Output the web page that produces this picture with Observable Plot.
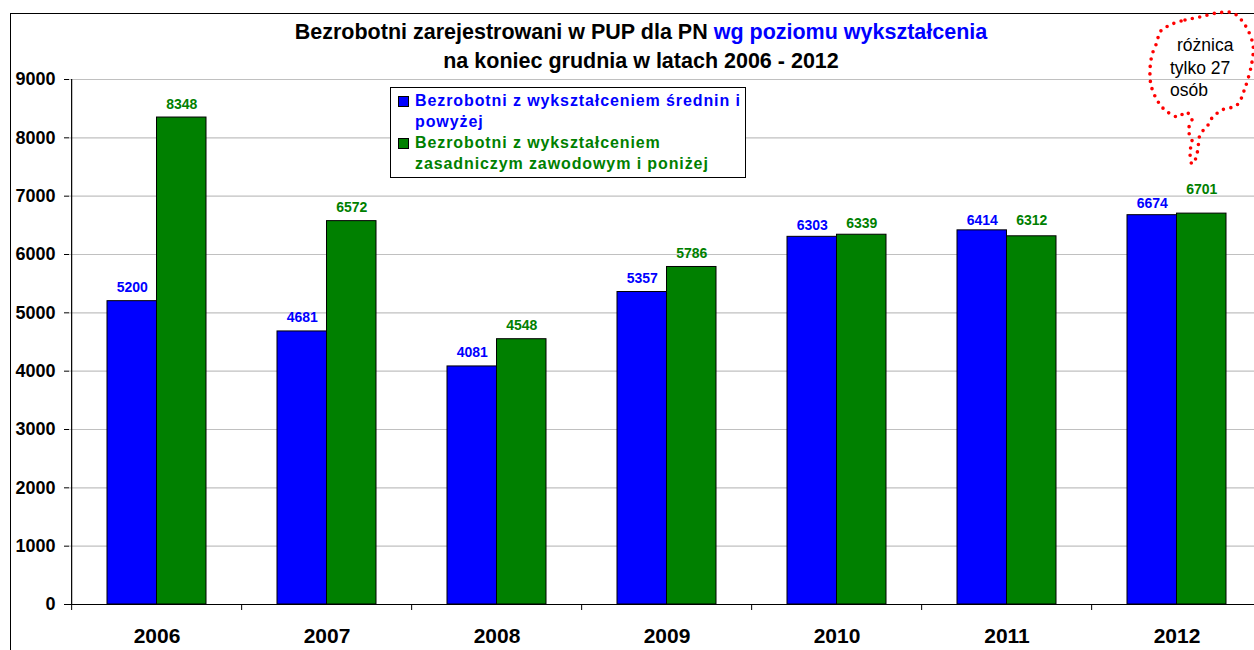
<!DOCTYPE html>
<html><head><meta charset="utf-8">
<script src="https://cdn.jsdelivr.net/npm/d3@7"></script>
<script src="https://cdn.jsdelivr.net/npm/@observablehq/plot@0.6"></script>
<style>
html,body{margin:0;padding:0;overflow:hidden;background:#fff;width:1254px;height:650px}
#wrap{position:relative;width:1254px;height:650px;overflow:hidden;font-family:Arial,"Liberation Sans",sans-serif}
#frame{position:absolute;left:10px;top:13px;width:1400px;height:800px;border-left:1.5px solid #000;border-top:1.5px solid #000;box-sizing:border-box}
#chart{position:absolute;left:0;top:0;width:1264px}
#chart svg{max-width:none !important}
#title{position:absolute;left:0;width:1282px;top:18px;text-align:center;font-weight:bold;font-size:21.5px;line-height:29px;color:#000}
#legend{position:absolute;left:390px;top:87px;width:356px;height:91px;border:1px solid #000;background:#fff;box-sizing:border-box;font-weight:bold;font-size:16px;letter-spacing:0.9px;line-height:20px}
.li{position:absolute;left:24px;white-space:nowrap}
.mk{position:absolute;left:7px;width:9px;height:9px;border:1px solid #000}
#callout{position:absolute;left:0;top:0;width:1254px;height:650px;pointer-events:none}
.ct{position:absolute;font-size:17.5px;color:#000;white-space:nowrap}
</style></head>
<body>
<div id="wrap">
  <div id="frame"></div>
  <div id="chart"></div>
  <div id="title"></div>
  <div id="legend"></div>
  <svg id="callout" width="1254" height="650"></svg>
  <div class="ct" style="left:1177px;top:35px">różnica</div>
  <div class="ct" style="left:1170px;top:58px">tylko 27</div>
  <div class="ct" style="left:1170px;top:80px">osób</div>
</div>
<script>
const years = ["2006","2007","2008","2009","2010","2011","2012"];
const seriesNames = ["Bezrobotni z wykształceniem średnin i powyżej","Bezrobotni z wykształceniem zasadniczym zawodowym i poniżej"];
const secondaryAndAbove = [5200,4681,4081,5357,6303,6414,6674];
const vocationalAndBelow = [8348,6572,4548,5786,6339,6312,6701];
const yTicks = [0,1000,2000,3000,4000,5000,6000,7000,8000,9000];
const colors = ["#0000ff","#008000"];
const titleLine1a = "Bezrobotni zarejestrowani w PUP dla PN ";
const titleLine1b = "wg poziomu wykształcenia";
const titleLine2 = "na koniec grudnia w latach 2006 - 2012";

const sec = years.map((y,i)=>({year:y, series:seriesNames[0], value:secondaryAndAbove[i]}));
const voc = years.map((y,i)=>({year:y, series:seriesNames[1], value:vocationalAndBelow[i]}));

// layout (pixels)
const W = 1264, ML = 69;
const step = (W - ML) / years.length;
const bw = step * 0.58;
const half = bw / 2;
// manual label nudges (as in the original, where some labels were moved by hand)
const nudge = {sec: {"2010": 2, "2011": 4, "2012": 2}, voc: {"2010": 2, "2011": -2, "2012": -11}};

const labelMarks = [];
sec.forEach(d => labelMarks.push(Plot.text([d], {x: "year", y: "value", text: d => String(d.value), dx: -half/2, dy: -9 + (nudge.sec[d.year] || 0), lineAnchor: "bottom", fill: colors[0], fontWeight: "bold", fontSize: 14})));
voc.forEach(d => labelMarks.push(Plot.text([d], {x: "year", y: "value", text: d => String(d.value), dx: half/2, dy: -9 + (nudge.voc[d.year] || 0), lineAnchor: "bottom", fill: colors[1], fontWeight: "bold", fontSize: 14})));

const chart = Plot.plot({
  width: W, height: 650,
  marginTop: 79, marginBottom: 46, marginLeft: ML, marginRight: 0,
  style: {fontFamily: "Arial, 'Liberation Sans', sans-serif", background: "transparent", overflow: "visible", maxWidth: "none"},
  x: {domain: years, paddingInner: 0.42, paddingOuter: 0.21, label: null},
  y: {domain: [0, 9000], label: null},
  marks: [
    Plot.gridY(yTicks, {stroke: "#c0c0c0", strokeOpacity: 1, strokeWidth: 1.2}),
    Plot.barY(sec, {x: "year", y: "value", fill: colors[0], stroke: "#000", strokeWidth: 1, insetRight: half}),
    Plot.barY(voc, {x: "year", y: "value", fill: colors[1], stroke: "#000", strokeWidth: 1, insetLeft: half}),
    ...labelMarks,
    Plot.ruleY([0], {stroke: "#000", strokeWidth: 1.2}),
    Plot.ruleX([years[0]], {y1: 0, y2: 9000, dx: -step/2, stroke: "#000", strokeWidth: 1.2}),
    Plot.axisY({ticks: yTicks, tickSize: 5, tickPadding: 9, fontSize: 18, fontWeight: "bold", fill: "#000", stroke: "#000", tickFormat: d => String(d)}),
    Plot.axisX({tickSize: 6, tickFormat: () => "", dx: -step/2, stroke: "#000"}),
    Plot.axisX({tickSize: 0, tickPadding: 24, fontSize: 21, fontWeight: "bold", fill: "#000", tickFormat: d => d})
  ]
});
chart.style.maxWidth = "none";
document.getElementById("chart").appendChild(chart);

// title
const t = document.getElementById("title");
const l1 = document.createElement("div");
l1.appendChild(document.createTextNode(titleLine1a));
const sp = document.createElement("span"); sp.style.color = "#0000ff"; sp.textContent = titleLine1b; l1.appendChild(sp);
const l2 = document.createElement("div"); l2.textContent = titleLine2;
t.appendChild(l1); t.appendChild(l2);

// legend
const lg = document.getElementById("legend");
const legendLines = [
  {text: "Bezrobotni z wykształceniem średnin i", color: colors[0], top: 3, marker: true},
  {text: "powyżej", color: colors[0], top: 24},
  {text: "Bezrobotni z wykształceniem", color: colors[1], top: 45, marker: true},
  {text: "zasadniczym zawodowym i poniżej", color: colors[1], top: 66}
];
legendLines.forEach(l => {
  const d = document.createElement("div"); d.className = "li"; d.style.top = l.top + "px"; d.style.color = l.color; d.textContent = l.text; lg.appendChild(d);
  if (l.marker) { const m = document.createElement("div"); m.className = "mk"; m.style.top = (l.top + 5) + "px"; m.style.background = l.color; lg.appendChild(m); }
});

// callout cloud (annotation)
const cloudPts = [[1170,25],[1185,20],[1200,17],[1217,13],[1233,13],[1245,25],[1253,45],[1252,62],[1245,88],[1237,105],[1222,110],[1212,118],[1208,125],[1200,135],[1198,148],[1196,158],[1192,164],[1190,152],[1192,140],[1188,130],[1192,120],[1186,112],[1178,117],[1165,110],[1157,100],[1151,85],[1150,70],[1152,55],[1157,42],[1160,32]];
const line = d3.line().curve(d3.curveCatmullRomClosed);
d3.select("#callout").append("path").attr("d", line(cloudPts)).attr("fill","none").attr("stroke","#ff0000").attr("stroke-width",3.6).attr("stroke-linecap","round").attr("stroke-dasharray","0 7.5");
</script>
</body></html>
